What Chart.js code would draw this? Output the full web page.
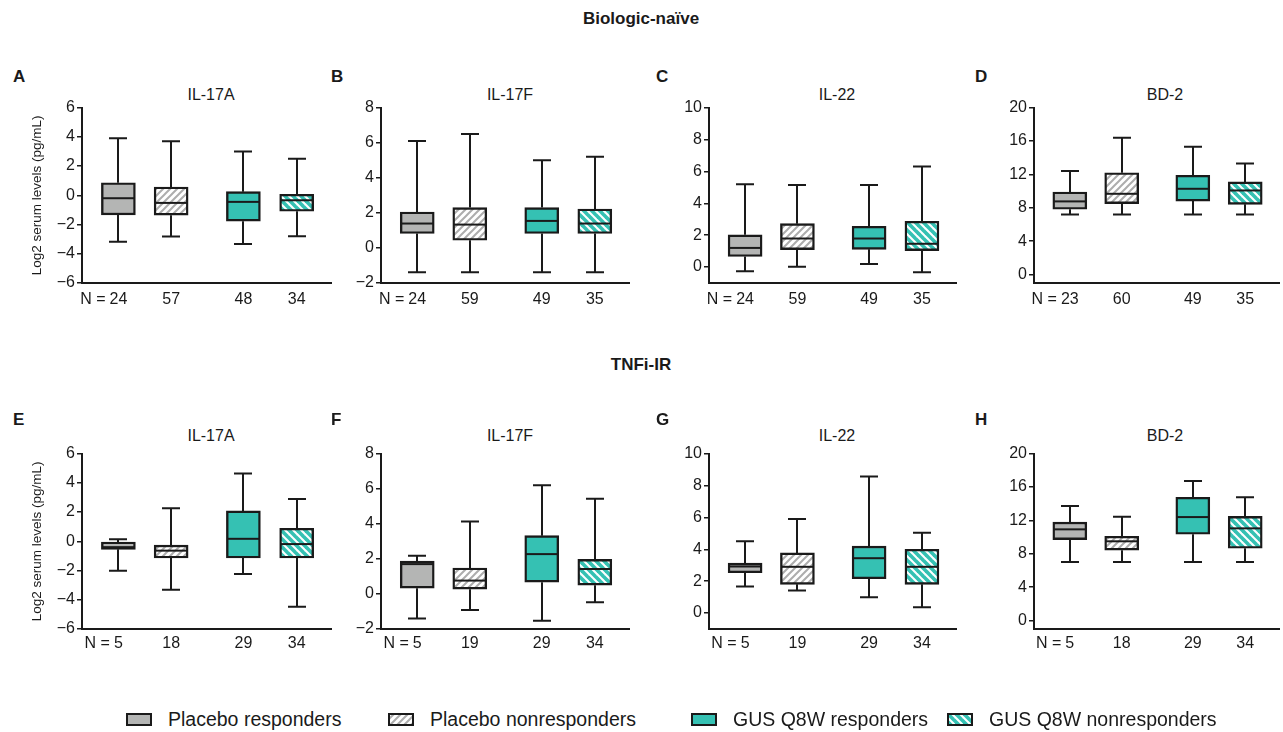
<!DOCTYPE html>
<html><head><meta charset="utf-8">
<script src="https://cdn.jsdelivr.net/npm/chart.js@4.4.1/dist/chart.umd.min.js"></script>
<style>
html,body{margin:0;padding:0;background:#fff;}
body{width:1283px;height:732px;position:relative;overflow:hidden;font-family:'Liberation Sans',Arial,sans-serif;color:#1a1a1a;}
.abs{position:absolute;white-space:nowrap;line-height:1;}
.head{font-weight:bold;font-size:17px;transform:translateX(-50%);}
.letter{font-weight:bold;font-size:17px;}
.ptitle{font-size:16px;transform:translateX(-50%);}
.nlab{font-size:16px;transform:translate(-100%,-50%);}
canvas.cv{position:absolute;}
.leg{font-size:19.5px;}
</style></head><body>
<script>
// ---------------- DATA ----------------
const groupNames = ['Placebo responders', 'Placebo nonresponders', 'GUS Q8W responders', 'GUS Q8W nonresponders'];
const analytes = ['IL-17A', 'IL-17F', 'IL-22', 'BD-2'];
const sectionTitles = ['Biologic-naïve', 'TNFi-IR'];
const panelLetters = [['A', 'B', 'C', 'D'], ['E', 'F', 'G', 'H']];
const yAxisTitle = 'Log2 serum levels (pg/mL)';
const nPrefix = 'N =';

// Biologic-naïve (rows: IL-17A, IL-17F, IL-22, BD-2; columns: the 4 groups)
const naiveN      = [[24, 57, 48, 34], [24, 59, 49, 35], [24, 59, 49, 35], [23, 60, 49, 35]];
const naiveMax    = [[3.9, 3.7, 3.0, 2.5], [6.1, 6.5, 5.0, 5.2], [5.2, 5.15, 5.15, 6.3], [12.4, 16.4, 15.3, 13.3]];
const naiveQ3     = [[0.86, 0.57, 0.25, 0.07], [2.05, 2.3, 2.3, 2.22], [2.02, 2.72, 2.56, 2.87], [9.9, 12.2, 11.9, 11.1]];
const naiveMedian = [[-0.2, -0.52, -0.45, -0.34], [1.39, 1.33, 1.54, 1.39], [1.2, 1.79, 1.79, 1.46], [8.77, 9.68, 10.28, 10.08]];
const naiveQ1     = [[-1.34, -1.36, -1.77, -1.09], [0.82, 0.44, 0.82, 0.82], [0.66, 1.09, 1.11, 1.03], [7.83, 8.5, 8.81, 8.42]];
const naiveMin    = [[-3.18, -2.82, -3.34, -2.8], [-1.39, -1.39, -1.39, -1.39], [-0.27, 0.02, 0.19, -0.33], [7.2, 7.2, 7.2, 7.2]];

// TNFi-IR
const tnfiN      = [[5, 18, 29, 34], [5, 19, 29, 34], [5, 19, 29, 34], [5, 18, 29, 34]];
const tnfiMax    = [[0.14, 2.26, 4.63, 2.89], [2.17, 4.13, 6.2, 5.42], [4.51, 5.9, 8.57, 5.03], [13.74, 12.44, 16.71, 14.77]];
const tnfiQ3     = [[-0.05, -0.26, 2.08, 0.89], [1.87, 1.48, 3.32, 1.97], [3.13, 3.77, 4.2, 4.0], [11.8, 10.1, 14.77, 12.48]];
const tnfiMedian = [[-0.4, -0.64, 0.17, -0.19], [1.7, 0.76, 2.27, 1.42], [2.92, 2.9, 3.44, 2.9], [10.93, 9.5, 12.4, 11.05]];
const tnfiQ1     = [[-0.55, -1.14, -1.14, -1.14], [0.33, 0.27, 0.67, 0.5], [2.53, 1.8, 2.15, 1.8], [9.7, 8.44, 10.34, 8.67]];
const tnfiMin    = [[-2.02, -3.32, -2.24, -4.47], [-1.4, -0.91, -1.53, -0.48], [1.66, 1.41, 0.99, 0.37], [7.01, 7.01, 7.01, 7.01]];

// Y-axis tick labels per analyte
const yTickValues = [[-6, -4, -2, 0, 2, 4, 6], [-2, 0, 2, 4, 6, 8], [0, 2, 4, 6, 8, 10], [0, 4, 8, 12, 16, 20]];
</script>
<script>
// ---------------- LAYOUT / STYLE ----------------
const yRange = [[-6, 6], [-2, 8], [-1, 10], [-1, 20]];
const boxPos = [1, 2, 3.37, 4.38];
const xRange = [0.31, 5.05];
const cols = [{axis: 82, right: 332, wy: 57}, {axis: 381, right: 630, wy: 40}, {axis: 709, right: 957, wy: 40}, {axis: 1034, right: 1280, wy: 40}];
const rowTops = [96, 442];
const xLabelPad = [7, 5];
const nLabelY = [299, 643];
const CANVAS_H = 217, PAD_TOP = 10, X_H = 30;
const INK = '#1a1a1a';
const GRAY = '#b4b5b4';
const TEAL = '#35c1b3';
const FONT = "'Liberation Sans', Arial, sans-serif";

function makeHatch(color, dir, period, lw) {
  const c = document.createElement('canvas');
  c.width = period; c.height = period;
  const g = c.getContext('2d');
  g.fillStyle = '#ffffff'; g.fillRect(0, 0, period, period);
  g.strokeStyle = color; g.lineWidth = lw; g.lineCap = 'square';
  for (const k of [-period, 0, period]) {
    g.beginPath();
    if (dir === '/') { g.moveTo(k, period); g.lineTo(k + period, 0); }
    else { g.moveTo(k, 0); g.lineTo(k + period, period); }
    g.stroke();
  }
  return g.createPattern(c, 'repeat');
}
const grayHatch = makeHatch('#adadad', '/', 7, 2);
const tealHatch = makeHatch(TEAL, '\\', 8, 3.6);
const fills = [GRAY, grayHatch, TEAL, tealHatch];

function addText(txt, cls, x, y) {
  const d = document.createElement('div');
  d.className = 'abs ' + cls; d.textContent = txt;
  d.style.left = x + 'px'; d.style.top = y + 'px';
  document.body.appendChild(d);
  return d;
}

const boxWhiskers = {
  id: 'boxWhiskers',
  beforeDatasetsDraw(chart, args, o) {
    const {ctx} = chart; const xs = chart.scales.x, ys = chart.scales.y;
    ctx.save(); ctx.strokeStyle = INK; ctx.lineWidth = 2; ctx.lineCap = 'butt';
    o.pos.forEach((p, i) => {
      const px = Math.round(xs.getPixelForValue(p));
      const yMax = ys.getPixelForValue(o.max[i]), yQ3 = ys.getPixelForValue(o.q3[i]);
      const yQ1 = ys.getPixelForValue(o.q1[i]), yMin = ys.getPixelForValue(o.min[i]);
      ctx.beginPath();
      ctx.moveTo(px, yMax); ctx.lineTo(px, yQ3);
      ctx.moveTo(px, yQ1); ctx.lineTo(px, yMin);
      ctx.moveTo(px - o.cap / 2, yMax); ctx.lineTo(px + o.cap / 2, yMax);
      ctx.moveTo(px - o.cap / 2, yMin); ctx.lineTo(px + o.cap / 2, yMin);
      ctx.stroke();
    });
    ctx.restore();
  },
  afterDatasetsDraw(chart, args, o) {
    const {ctx} = chart; const xs = chart.scales.x, ys = chart.scales.y;
    ctx.save(); ctx.strokeStyle = INK; ctx.lineWidth = 2;
    o.pos.forEach((p, i) => {
      const px = Math.round(xs.getPixelForValue(p));
      const yMed = ys.getPixelForValue(o.median[i]);
      ctx.beginPath();
      ctx.moveTo(px - o.width / 2 + 1, yMed); ctx.lineTo(px + o.width / 2 - 1, yMed);
      ctx.stroke();
    });
    ctx.restore();
  }
};

const minus = v => (v < 0 ? '\u2212' + Math.abs(v) : String(v));

function buildPanel(r, c, N, mx, q3, med, q1, mn) {
  const col = cols[c];
  const left = col.axis - col.wy;
  const cv = document.createElement('canvas');
  cv.className = 'cv';
  cv.width = col.right - left; cv.height = CANVAS_H;
  cv.style.left = left + 'px'; cv.style.top = rowTops[r] + 'px';
  document.body.appendChild(cv);
  const ticks = yTickValues[c];
  const chart = new Chart(cv.getContext('2d'), {
    type: 'bar',
    data: {
      datasets: [{
        data: boxPos.map((p, i) => ({x: p, y: [q1[i], q3[i]]})),
        backgroundColor: fills,
        borderColor: INK, borderWidth: 2.4, borderSkipped: false,
        barThickness: 34
      }]
    },
    options: {
      responsive: false, animation: false, devicePixelRatio: 1,
      layout: {padding: {top: PAD_TOP, right: 0, bottom: 0, left: 0}},
      plugins: {
        legend: {display: false}, tooltip: {enabled: false},
        boxWhiskers: {pos: boxPos, max: mx, q3: q3, median: med, q1: q1, min: mn, cap: 18, width: 34}
      },
      scales: {
        x: {
          type: 'linear', min: xRange[0], max: xRange[1], offset: false,
          afterBuildTicks: s => { s.ticks = boxPos.map(v => ({value: v})); },
          ticks: {
            callback: (v, i) => String(N[i]),
            font: {family: FONT, size: 16}, color: INK,
            padding: xLabelPad[r], maxRotation: 0, autoSkip: false
          },
          grid: {display: false, drawTicks: false, offset: false},
          border: {display: true, color: INK, width: 2},
          afterFit: s => { s.height = X_H; }
        },
        y: {
          min: yRange[c][0], max: yRange[c][1],
          afterBuildTicks: s => { s.ticks = ticks.map(v => ({value: v})); },
          ticks: {
            callback: v => minus(v),
            font: {family: FONT, size: 16}, color: INK, padding: 2
          },
          grid: {display: true, drawOnChartArea: false, drawTicks: true, tickLength: 5, color: INK, lineWidth: 1.5},
          border: {display: true, color: INK, width: 2},
          title: c === 0 ? {display: true, text: yAxisTitle, color: INK,
            font: {family: FONT, size: 13.5}, padding: {top: 4, bottom: 0}} : {display: false},
          afterFit: s => { s.width = col.wy; }
        }
      }
    },
    plugins: [boxWhiskers]
  });
  // "N =" prefix placed left of the first group's count, using the chart's x scale
  const fx = chart.scales.x.getPixelForValue(boxPos[0]);
  chart.ctx.save();
  chart.ctx.font = '16px ' + FONT;
  const numW = chart.ctx.measureText(String(N[0])).width;
  chart.ctx.restore();
  addText(nPrefix, 'nlab', left + fx - numW / 2 - 4, nLabelY[r]);
}

// section headings
addText(sectionTitles[0], 'head', 641, 10);
addText(sectionTitles[1], 'head', 641, 356);

const letterX = [13, 331, 656, 975];
const titleX = [211, 510, 837, 1165];
const rowsData = [
  [naiveN, naiveMax, naiveQ3, naiveMedian, naiveQ1, naiveMin],
  [tnfiN, tnfiMax, tnfiQ3, tnfiMedian, tnfiQ1, tnfiMin]
];
const letterY = [68, 411];
const titleY = [87, 428];
for (let r = 0; r < 2; r++) {
  for (let c = 0; c < 4; c++) {
    addText(panelLetters[r][c], 'letter', letterX[c], letterY[r]);
    addText(analytes[c], 'ptitle', titleX[c], titleY[r]);
    const d = rowsData[r];
    buildPanel(r, c, d[0][c], d[1][c], d[2][c], d[3][c], d[4][c], d[5][c]);
  }
}

// legend
const legSwatchX = [126, 388, 691, 947];
groupNames.forEach((name, i) => {
  const sw = document.createElement('canvas');
  sw.width = 26; sw.height = 13;
  sw.className = 'cv';
  sw.style.left = legSwatchX[i] + 'px'; sw.style.top = '713px';
  document.body.appendChild(sw);
  const g = sw.getContext('2d');
  g.fillStyle = fills[i]; g.fillRect(0, 0, 26, 13);
  g.strokeStyle = INK; g.lineWidth = 2; g.strokeRect(1, 1, 24, 11);
  addText(name, 'leg', legSwatchX[i] + 42, 710);
});
</script>
</body></html>
